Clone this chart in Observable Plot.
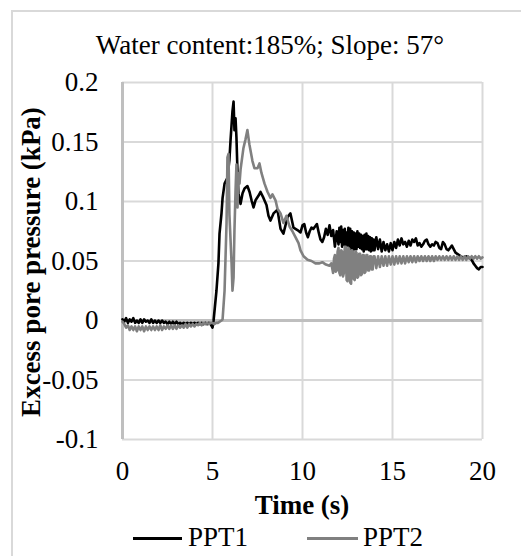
<!DOCTYPE html>
<html><head><meta charset="utf-8">
<script src="https://cdn.jsdelivr.net/npm/d3@7"></script>
<script src="https://cdn.jsdelivr.net/npm/@observablehq/plot@0.6"></script>
<style>
body{margin:0;background:#fff;}
#wrap{position:relative;width:521px;height:556px;overflow:hidden;font-family:"Liberation Serif","Times New Roman",serif;color:#000;background:#fff;}
#chart{position:absolute;left:0;top:0;}
#chart svg, #chart svg text{font-family:"Liberation Serif","Times New Roman",serif !important;font-size:27px !important;fill:#000;}
.lbl{position:absolute;font-size:27px;line-height:27px;white-space:nowrap;}
#frame{position:absolute;left:11px;top:10px;width:600px;height:600px;border-left:2px solid #d9d9d9;border-top:2px solid #d9d9d9;pointer-events:none;}
.sw{position:absolute;height:3px;}
</style></head>
<body><div id="wrap"><div id="chart"></div><div id="frame"></div></div>
<script>
const titleText = "Water content:185%; Slope: 57°";
const xLabel = "Time (s)";
const yLabel = "Excess pore pressure (kPa)";
const seriesNames = ["PPT1", "PPT2"];
const seriesColors = ["#000000", "#808080"];
const xTicks = [0, 5, 10, 15, 20];
const yTicks = [-0.1, -0.05, 0, 0.05, 0.1, 0.15, 0.2];

const ppt1 = [
[0,0.001],[0.1,-0.001],[0.2,0.002],[0.3,-0.002],[0.4,0.001],[0.5,-0.001],[0.6,0.002],[0.7,-0.002],[0.8,0.000],[0.9,-0.002],
[1,0.001],[1.1,-0.002],[1.2,0.001],[1.3,-0.001],[1.4,0.000],[1.5,-0.002],[1.6,0.001],[1.7,-0.002],[1.8,0.000],[1.9,-0.002],
[2,0.000],[2.1,-0.002],[2.2,0.000],[2.3,-0.002],[2.4,-0.001],[2.5,-0.003],[2.6,-0.001],[2.7,-0.003],[2.8,-0.001],[2.9,-0.003],
[3,-0.001],[3.1,-0.003],[3.2,-0.002],[3.3,-0.003],[3.4,-0.002],[3.5,-0.003],[3.6,-0.002],[3.7,-0.003],[3.8,-0.002],[3.9,-0.003],
[4,-0.002],[4.1,-0.003],[4.2,-0.002],[4.3,-0.003],[4.4,-0.002],[4.5,-0.003],[4.6,-0.002],[4.7,-0.003],[4.8,-0.002],[4.9,-0.003],
[5,-0.006],[5.06,0.000],[5.22,0.025],[5.33,0.048],[5.39,0.073],[5.5,0.090],[5.56,0.103],[5.67,0.115],[5.83,0.120],[5.94,0.135],
[6,0.151],[6.11,0.176],[6.17,0.184],[6.22,0.160],[6.28,0.170],[6.33,0.154],[6.39,0.124],[6.44,0.107],[6.56,0.098],[6.67,0.107],
[6.78,0.111],[6.94,0.113],[7.06,0.108],[7.17,0.101],[7.28,0.095],[7.39,0.101],[7.56,0.105],[7.67,0.108],[7.83,0.103],[8,0.097],
[8.11,0.088],[8.22,0.084],[8.39,0.090],[8.61,0.093],[8.78,0.077],[8.94,0.073],[9.17,0.087],[9.33,0.090],[9.5,0.078],[9.72,0.076],
[9.89,0.074],
[10,0.080],[10.1,0.081],[10.2,0.074],[10.3,0.070],[10.4,0.075],[10.5,0.078],[10.6,0.077],[10.7,0.079],[10.8,0.081],[10.9,0.074],
[11,0.068],[11.1,0.066],[11.2,0.070],[11.3,0.077],[11.4,0.072],[11.5,0.080],[11.6,0.071],[11.7,0.076],[11.8,0.062],[11.9,0.075],
[12,0.064],[12.05,0.078],[12.1,0.066],[12.15,0.079],[12.2,0.062],[12.25,0.076],[12.3,0.064],[12.35,0.077],[12.4,0.060],[12.45,0.074],
[12.5,0.063],[12.55,0.078],[12.6,0.062],[12.65,0.077],[12.7,0.060],[12.75,0.075],[12.8,0.058],[12.85,0.074],[12.9,0.060],[12.95,0.073],
[13,0.060],[13.05,0.075],[13.1,0.062],[13.15,0.073],[13.2,0.061],[13.25,0.072],[13.3,0.060],[13.35,0.071],[13.4,0.058],[13.45,0.072],
[13.5,0.060],[13.55,0.073],[13.6,0.060],[13.65,0.071],[13.7,0.059],[13.75,0.070],[13.8,0.058],[13.85,0.069],[13.9,0.059],[13.95,0.068],
[14,0.059],[14.1,0.070],[14.2,0.060],[14.3,0.068],[14.4,0.058],[14.5,0.066],[14.6,0.059],[14.7,0.064],[14.8,0.058],[14.9,0.065],
[15,0.059],[15.1,0.066],[15.2,0.061],[15.3,0.068],[15.4,0.063],[15.5,0.069],[15.6,0.064],[15.7,0.066],[15.8,0.062],[15.9,0.067],
[16,0.063],[16.1,0.068],[16.2,0.066],[16.3,0.069],[16.4,0.063],[16.5,0.065],[16.6,0.062],[16.7,0.064],[16.8,0.067],[16.9,0.068],
[17,0.064],[17.1,0.062],[17.2,0.064],[17.3,0.063],[17.4,0.066],[17.5,0.065],[17.6,0.061],[17.7,0.060],[17.8,0.066],[17.9,0.064],
[18,0.060],[18.1,0.059],[18.2,0.061],[18.3,0.063],[18.4,0.060],[18.5,0.057],[18.6,0.056],[18.7,0.055],[18.8,0.054],[18.9,0.053],
[19,0.053],[19.1,0.054],[19.2,0.053],[19.3,0.052],[19.4,0.051],[19.5,0.048],[19.6,0.046],[19.7,0.044],[19.8,0.043],[19.9,0.045],
[20,0.045]
];

const ppt2 = [
[0,-0.001],[0.1,-0.003],[0.2,-0.006],[0.3,-0.004],[0.4,-0.008],[0.5,-0.005],[0.6,-0.008],[0.7,-0.005],[0.8,-0.009],[0.9,-0.005],
[1,-0.008],[1.1,-0.005],[1.2,-0.009],[1.3,-0.005],[1.4,-0.008],[1.5,-0.005],[1.6,-0.008],[1.7,-0.005],[1.8,-0.008],[1.9,-0.005],
[2,-0.008],[2.1,-0.004],[2.2,-0.008],[2.3,-0.005],[2.4,-0.007],[2.5,-0.004],[2.6,-0.007],[2.7,-0.004],[2.8,-0.007],[2.9,-0.004],
[3,-0.007],[3.1,-0.004],[3.2,-0.006],[3.3,-0.004],[3.4,-0.006],[3.5,-0.003],[3.6,-0.006],[3.7,-0.003],[3.8,-0.005],[3.9,-0.003],
[4,-0.005],[4.1,-0.003],[4.2,-0.004],[4.3,-0.002],[4.4,-0.004],[4.5,-0.002],[4.6,-0.003],[4.7,-0.002],[4.8,-0.003],[4.9,-0.002],
[5,-0.002],[5.1,-0.003],[5.2,-0.002],[5.3,-0.002],[5.4,-0.001],[5.5,0.000],
[5.56,0.001],[5.67,0.025],[5.78,0.082],[5.83,0.137],[5.89,0.140],[5.94,0.089],[6.06,0.048],[6.11,0.025],[6.17,0.036],[6.22,0.076],
[6.28,0.109],[6.33,0.131],[6.39,0.095],[6.44,0.124],[6.5,0.115],[6.56,0.127],[6.72,0.145],[6.83,0.152],[6.94,0.160],[7.05,0.148],
[7.11,0.143],[7.22,0.134],[7.33,0.128],[7.5,0.128],[7.61,0.132],[7.72,0.124],[7.89,0.115],[8.06,0.108],[8.22,0.103],[8.33,0.106],
[8.5,0.101],[8.61,0.094],[8.78,0.090],[8.94,0.082],[9.11,0.088],[9.28,0.079],[9.44,0.075],[9.61,0.070],[9.78,0.065],[9.89,0.059],
[10.06,0.054],[10.28,0.051],[10.5,0.050],[10.72,0.048],[10.94,0.048],[11.1,0.049],[11.3,0.047],[11.5,0.046],[11.6,0.048],
[11.7,0.040],[11.75,0.052],[11.8,0.055],[11.85,0.041],[11.9,0.042],[11.95,0.058],
[12,0.061],[12.05,0.040],[12.1,0.038],[12.15,0.059],[12.2,0.058],[12.25,0.037],[12.3,0.040],[12.35,0.062],[12.4,0.062],[12.45,0.034],
[12.5,0.033],[12.55,0.061],[12.6,0.060],[12.65,0.032],[12.7,0.031],[12.75,0.059],[12.8,0.058],[12.85,0.035],[12.9,0.034],[12.95,0.058],
[13,0.057],[13.05,0.036],[13.1,0.037],[13.15,0.056],[13.2,0.056],[13.25,0.038],[13.3,0.039],[13.35,0.055],[13.4,0.055],[13.45,0.040],
[13.5,0.041],[13.55,0.055],[13.6,0.055],[13.65,0.042],[13.7,0.042],[13.75,0.054],[13.8,0.054],[13.85,0.043],[13.9,0.043],[13.95,0.054],
[14,0.054],[14.1,0.044],[14.2,0.054],[14.3,0.045],[14.4,0.054],[14.5,0.046],[14.6,0.054],[14.7,0.046],[14.8,0.054],[14.9,0.047],
[15,0.054],[15.1,0.047],[15.2,0.054],[15.3,0.048],[15.4,0.054],[15.5,0.048],[15.6,0.054],[15.7,0.048],[15.8,0.054],[15.9,0.049],
[16,0.054],[16.1,0.049],[16.2,0.054],[16.3,0.049],[16.4,0.054],[16.5,0.050],[16.6,0.054],[16.7,0.050],[16.8,0.054],[16.9,0.050],
[17,0.054],[17.1,0.050],[17.2,0.054],[17.3,0.050],[17.4,0.054],[17.5,0.051],[17.6,0.054],[17.7,0.051],[17.8,0.054],[17.9,0.051],
[18,0.054],[18.1,0.051],[18.2,0.054],[18.3,0.051],[18.4,0.054],[18.5,0.051],[18.6,0.054],[18.7,0.051],[18.8,0.054],[18.9,0.051],
[19,0.054],[19.1,0.051],[19.2,0.054],[19.3,0.052],[19.4,0.054],[19.5,0.052],[19.6,0.054],[19.7,0.052],[19.8,0.054],[19.9,0.052],
[20,0.053]
];

const rows1 = ppt1.map(([t, v]) => ({t, v}));
const rows2 = ppt2.map(([t, v]) => ({t, v}));
const fmt = d => String(+d.toFixed(2));

const chart = Plot.plot({
  width: 521, height: 556,
  marginTop: 82, marginRight: 39, marginBottom: 117, marginLeft: 122,
  style: {fontFamily: "Liberation Serif, serif", fontSize: "27px", color: "#000", background: "transparent"},
  x: {domain: [0, 20]},
  y: {domain: [-0.1, 0.2]},
  marks: [
    Plot.gridX(xTicks, {stroke: "#d9d9d9", strokeOpacity: 1, strokeWidth: 2}),
    Plot.gridY(yTicks, {stroke: "#d9d9d9", strokeOpacity: 1, strokeWidth: 2}),
    Plot.ruleX([0], {stroke: "#bfbfbf", strokeWidth: 3}),
    Plot.ruleY([0], {stroke: "#bfbfbf", strokeWidth: 3}),
    Plot.line(rows1, {x: "t", y: "v", stroke: seriesColors[0], strokeWidth: 2.6}),
    Plot.line(rows2, {x: "t", y: "v", stroke: seriesColors[1], strokeWidth: 2.6}),
    Plot.axisX(xTicks, {tickSize: 0, tickPadding: 21, label: null, tickFormat: fmt, fontSize: 27}),
    Plot.axisY(yTicks, {tickSize: 0, tickPadding: 24, label: null, tickFormat: fmt, fontSize: 27})
  ]
});
document.getElementById("chart").appendChild(chart);

const wrap = document.getElementById("wrap");
function addLabel(text, css, bold) {
  const d = document.createElement("div");
  d.className = "lbl";
  d.textContent = text;
  Object.assign(d.style, css);
  if (bold) d.style.fontWeight = "bold";
  wrap.appendChild(d);
}
addLabel(titleText, {left: "270px", top: "32px", transform: "translateX(-50%)"});
addLabel(xLabel, {left: "302px", top: "492px", transform: "translateX(-50%)"}, true);
addLabel(yLabel, {left: "31px", top: "262px", transform: "translate(-50%,-50%) rotate(-90deg)"}, true);
const legendPos = [{line: 133, w: 49, text: 188}, {line: 307, w: 51, text: 363}];
seriesNames.forEach((name, i) => {
  const s = document.createElement("div");
  s.className = "sw";
  Object.assign(s.style, {left: legendPos[i].line + "px", top: "537px", width: legendPos[i].w + "px", background: seriesColors[i]});
  wrap.appendChild(s);
  addLabel(name, {left: legendPos[i].text + "px", top: "524px"});
});
</script>
</body></html>
